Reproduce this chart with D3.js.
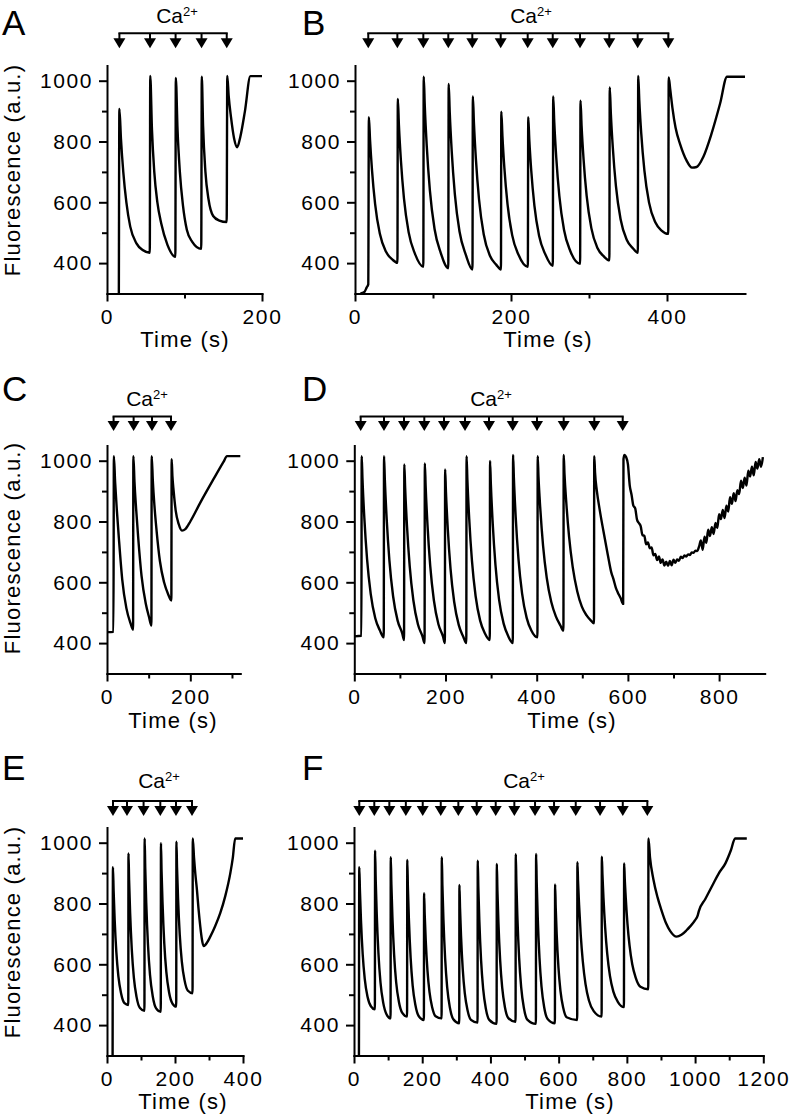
<!DOCTYPE html>
<html><head><meta charset="utf-8">
<script src="https://cdn.jsdelivr.net/npm/d3@7/dist/d3.min.js"></script>
<style>
body{margin:0;background:#fff}
svg{display:block}
text{font-family:"Liberation Sans",Arial,Helvetica,sans-serif;fill:#000}
.tick text{font-size:21px;letter-spacing:1.6px}
.title{font-size:22px;letter-spacing:1.2px}
.letter{font-size:35px}
.ca{font-size:21px}
</style>
</head><body>
<svg id="chart" width="796" height="1118"></svg>
<script>
// ---------- shared axis values ----------
const yDomain = [300, 1050];
const yTicksMajor = [400, 600, 800, 1000];
const yTicksMinor = [500, 700, 900];
const yTitleText = "Fluorescence (a.u.)";
const xTitleText = "Time (s)";

// ---------- Panel A ----------
const xDomainA = [0, 200];
const xMajorA = [0, 200];
const xMinorA = [100];
const arrowsA = [16, 55.5, 88.5, 122, 154.5];
const timeA = [15.3, 16, 18, 21, 25, 30, 38, 46, 55.2,
  55.8, 58, 61, 65, 70, 78, 88.2,
  88.8, 91, 94, 98, 103, 110, 121.6,
  122.3, 124, 127, 131, 137, 145, 154.4,
  155.2, 157, 160, 164, 168, 172, 178, 185, 200];
const fluoA = [300, 907, 810, 700, 600, 520, 465, 443, 434,
  1016, 840, 700, 600, 530, 460, 421,
  1009, 840, 700, 590, 510, 470, 447,
  1013, 850, 700, 610, 555, 540, 535,
  1016, 950, 880, 810, 781, 815, 900, 1015, 1015];

// ---------- Panel B ----------
const xDomainB = [0, 500];
const xMajorB = [0, 200, 400];
const xMinorB = [100, 300];
const arrowsB = [17, 54.3, 87.6, 119.6, 150.4, 186.8, 221.4, 253.5, 288.5, 326, 362.4, 401.7];
const timeB = [7, 12, 15, 17, 17.8,
  19.3, 21.8, 25.8, 31.8, 39.8, 47.8, 54.4,
  54.9, 56.3, 58.8, 62.8, 68.8, 76.8, 87.6,
  88.1, 89.5, 92, 96, 102, 110, 119.6,
  120.1, 121.5, 124, 128, 134, 142, 150.6,
  151.1, 152.5, 155, 159, 165, 173, 181, 187.1,
  187.6, 189, 191.5, 195.5, 201.5, 209.5, 221.6,
  222.1, 223.5, 226, 230, 236, 244, 253.6,
  254.1, 255.5, 258, 262, 268, 276, 288.6,
  289.1, 290.5, 293, 297, 303, 311, 319, 326.1,
  326.6, 328, 330.5, 334.5, 340.5, 348.5, 356.5, 362.6,
  363.1, 364.5, 367, 371, 377, 385, 393, 401.6,
  402.2, 404, 407, 411, 417, 425, 432, 438, 446.5, 457, 468, 477, 500];
const fluoB = [300, 305, 320, 330, 880,
  805, 706, 594, 497, 437, 412, 401,
  940, 854, 740, 612, 501, 431, 388,
  1013, 915, 785, 639, 512, 433, 383,
  989, 894, 768, 627, 504, 428, 379,
  948, 860, 742, 610, 495, 424, 395, 379,
  898, 819, 713, 595, 492, 428, 388,
  880, 804, 703, 589, 490, 429, 391,
  948, 862, 748, 620, 509, 440, 398,
  934, 852, 743, 621, 515, 449, 422, 409,
  978, 893, 781, 654, 544, 476, 448, 434,
  1016, 935, 826, 705, 599, 534, 507, 496,
  1011, 975, 910, 845, 790, 738, 714, 716, 749, 825, 924, 1013, 1013];

// ---------- Panel C ----------
const xDomainC = [0, 320];
const xMajorC = [0, 200];
const xMinorC = [100, 300];
const arrowsC = [15.8, 63.9, 108, 153.7];
const timeC = [0, 15.5, 16.5, 19.5, 23.5, 28.5, 36.5, 46.5, 56.5, 62.6,
  63.3, 66, 70, 75, 83, 93, 101, 106.6,
  107.3, 110, 114, 119, 127, 137, 147, 154.5,
  155.2, 157, 160, 165, 172, 180, 188, 200, 224, 256, 280, 288, 320];
const fluoC = [436, 437, 1015, 930, 840, 745, 610, 515, 465, 444,
  1015, 930, 840, 745, 620, 530, 485, 458,
  1015, 935, 850, 770, 670, 600, 560, 540,
  1005, 950, 900, 835, 792, 770, 775, 800, 862, 940, 997, 1015, 1015];

// ---------- Panel D ----------
const xDomainD = [0, 900];
const xMajorD = [0, 200, 400, 600, 800];
const xMinorD = [100, 300, 500, 700];
const arrowsD = [14, 65.1, 109, 153.5, 196.7, 242.8, 295.4, 347.4, 400.7, 459.2, 526.3, 588.6];
const timeD = [0, 15.6, 16.2, 18, 22, 28, 36, 46, 56, 64.6,
  65.2, 67, 71, 77, 85, 95, 105, 109.1,
  109.7, 111.5, 115.5, 121.5, 129.5, 139.5, 149.5, 154.1,
  154.7, 156.5, 160.5, 166.5, 174.5, 184.5, 194.5, 198.6,
  199.2, 201, 205, 211, 219, 229, 239, 245.6,
  246.2, 248, 252, 258, 266, 276, 286, 297.1,
  297.7, 299.5, 303.5, 309.5, 317.5, 327.5, 337.5, 347.6,
  348.2, 350, 354, 360, 368, 378, 388, 401.6,
  402.2, 404, 408, 414, 422, 432, 442, 452, 458.6,
  459.2, 461, 465, 471, 479, 489, 499, 509, 519, 525.6,
  526.2, 528, 532, 538, 546, 556, 564, 568, 574, 578, 584, 589.6,
  590.3, 592.5,
  596, 600, 604, 608, 612, 616, 620, 624, 628, 632, 636, 640, 644, 648, 652, 656, 660, 664, 668, 672,
  676, 680, 684, 688, 692, 696, 700, 704, 708, 712, 716, 720, 724, 728, 732, 736, 740, 744, 748, 752,
  756, 760, 764, 768, 772, 776, 780, 784, 788, 792, 796, 800, 804, 808, 812, 816, 820, 824, 828, 832,
  836, 840, 844, 848, 852, 856, 860, 864, 868, 872, 876, 880, 884, 888, 892, 896];
const fluoD = [422, 424, 1015, 938, 812, 676, 562, 482, 442, 419,
  1015, 937, 809, 671, 555, 474, 433, 410,
  988, 912, 787, 653, 541, 462, 422, 400,
  991, 915, 789, 654, 541, 462, 422, 400,
  971, 897, 776, 645, 536, 460, 421, 400,
  1015, 937, 809, 671, 555, 474, 433, 410,
  999, 922, 795, 658, 543, 464, 423, 400,
  1019, 942, 814, 677, 563, 483, 442, 419,
  1015, 945, 840, 720, 615, 535, 488, 458, 441,
  1019, 955, 860, 750, 650, 570, 520, 492, 474, 465,
  1015, 960, 900, 840, 771, 690, 630, 612, 580, 566, 548, 529,
  1005, 1019,
  1012, 989, 919, 888, 852, 843, 806, 795, 785, 755, 753, 725, 731, 712, 715, 689, 693, 673, 685, 664,
  675, 655, 668, 654, 670, 656, 674, 664, 675, 671, 684, 680, 688, 685, 692, 690, 698, 697, 704, 703,
  717, 738, 707, 750, 730, 773, 752, 781, 759, 795, 779, 824, 808, 838, 811, 852, 833, 880, 858, 893,
  867, 903, 890, 934, 910, 944, 918, 967, 948, 980, 952, 996, 974, 1005, 980, 1012];

// ---------- Panel E ----------
const xDomainE = [0, 400];
const xMajorE = [0, 200, 400];
const xMinorE = [100, 300];
const arrowsE = [17.6, 58.8, 107.6, 156.8, 202.9, 250];
const timeE = [16.5, 17.5, 19.5, 22.5, 27.5, 33.5, 41.5, 51.5, 62.6,
  63.2, 65, 68, 73, 79, 87, 97, 110.1,
  110.7, 112.5, 115.5, 120.5, 126.5, 134.5, 144.5, 158.1,
  158.7, 160.5, 163.5, 168.5, 174.5, 182.5, 192.5, 203.6,
  204.2, 206, 209, 214, 220, 228, 238, 251.6,
  252.3, 256, 260, 264.6, 269, 274.4, 279, 284, 290, 303.8, 318, 333, 348, 362.6, 370, 377, 400];
const fluoE = [300, 919, 841, 748, 640, 560, 504, 472, 466,
  965, 877, 770, 647, 556, 492, 456, 447,
  1014, 917, 800, 665, 565, 495, 455, 444,
  998, 906, 797, 668, 575, 508, 471, 461,
  1003, 918, 816, 697, 610, 548, 513, 505,
  1014, 950, 895, 844, 785, 724, 683, 660, 665, 691, 725, 768, 825, 899, 950, 1014, 1014];

// ---------- Panel F ----------
const xDomainF = [0, 1200];
const xMajorF = [0, 200, 400, 600, 800, 1000, 1200];
const xMinorF = [100, 300, 500, 700, 900, 1100];
const arrowsF = [15.5, 59.5, 103.6, 152, 201.5, 254.3, 305.9, 359.8, 415.5, 470.1, 530.8, 586.5, 650.1, 721.4, 788, 860];
const timeF = [14.5, 15.5, 17.5, 20.5, 25.5, 31.5, 39.5, 49.5, 61.2,
  61.8, 63.6, 66.6, 71.6, 77.6, 85.6, 95.6, 107.2,
  107.8, 109.6, 112.6, 117.6, 123.6, 131.6, 141.6, 155.6,
  156.2, 158, 161, 166, 172, 180, 190, 204.9,
  205.5, 207.3, 210.3, 215.3, 221.3, 229.3, 239.3, 256.8,
  257.4, 259.2, 262.2, 267.2, 273.2, 281.2, 291.2, 308.5,
  309.1, 310.9, 313.9, 318.9, 324.9, 332.9, 342.9, 362.2,
  362.8, 364.6, 367.6, 372.6, 378.6, 386.6, 396.6, 418.1,
  418.7, 420.5, 423.5, 428.5, 434.5, 442.5, 452.5, 473.7,
  474.3, 476.1, 479.1, 484.1, 490.1, 498.1, 508.1, 533.3,
  533.9, 535.7, 538.7, 543.7, 549.7, 557.7, 567.7, 589,
  589.6, 591.4, 594.4, 599.4, 605.4, 613.4, 623.4, 654.4,
  655, 656.8, 659.8, 664.8, 670.8, 678.8, 688.8, 702.8, 726,
  726.6, 728.4, 731.4, 736.4, 742.4, 750.4, 760.4, 774.4, 791.4,
  792, 793.8, 796.8, 801.8, 807.8, 815.8, 825.8, 839.8, 862.7,
  863.3, 868, 877.7, 890, 902.3, 915, 926.7, 946, 960, 975, 985, 1000, 1008, 1011, 1030, 1053.7, 1070, 1088.9, 1105, 1117.3, 1151.6];
const fluoF = [300, 919, 839, 744, 633, 552, 494, 462, 452,
  974, 880, 768, 637, 541, 474, 435, 422,
  952, 863, 756, 632, 541, 477, 440, 428,
  943, 854, 747, 622, 530, 466, 429, 417,
  834, 764, 679, 581, 509, 458, 429, 422,
  952, 859, 748, 619, 524, 457, 419, 406,
  861, 784, 691, 583, 504, 449, 417, 408,
  941, 850, 741, 613, 520, 454, 417, 404,
  930, 842, 736, 613, 523, 459, 423, 411,
  962, 867, 754, 622, 525, 456, 418, 404,
  963, 869, 755, 623, 527, 458, 420, 406,
  863, 787, 696, 590, 512, 457, 426, 417,
  936, 875, 798, 696, 610, 535, 481, 446, 428,
  954, 895, 819, 720, 635, 562, 510, 475, 459,
  932, 882, 818, 733, 662, 600, 556, 526, 518,
  1014, 950, 880, 820, 775, 735, 710, 691, 697, 712, 724, 745, 762, 775, 815, 866, 900, 932, 975, 1014, 1014];

// ---------- layout (positions only) ----------
const panels = [
  {letter:"A", t:timeA, f:fluoA, arrows:arrowsA, xDomain:xDomainA, xMajor:xMajorA, xMinor:xMinorA,
   xRange:[107,262], yRange:[293.5,65.5], letterPos:[2,35], caPos:[177,23], barY:33.3, tipY:48.3, xTitle:[185,347], yTitle:[20,170]},
  {letter:"B", t:timeB, f:fluoB, arrows:arrowsB, xDomain:xDomainB, xMajor:xMajorB, xMinor:xMinorB,
   xRange:[355,745], yRange:[293.5,65.5], letterPos:[302,35], caPos:[531,23], barY:33.3, tipY:48.3, xTitle:[548,347]},
  {letter:"C", t:timeC, f:fluoC, arrows:arrowsC, xDomain:xDomainC, xMajor:xMajorC, xMinor:xMinorC,
   xRange:[107,240.3], yRange:[673.5,445.5], letterPos:[2,401], caPos:[147,406], barY:416.5, tipY:431, xTitle:[173,727.5], yTitle:[20,548]},
  {letter:"D", t:timeD, f:fluoD, arrows:arrowsD, xDomain:xDomainD, xMajor:xMajorD, xMinor:xMinorD,
   xRange:[354.3,764.7], yRange:[673.5,445.5], letterPos:[302,401], caPos:[491,406], barY:416.5, tipY:431, xTitle:[572,727.5]},
  {letter:"E", t:timeE, f:fluoE, arrows:arrowsE, xDomain:xDomainE, xMajor:xMajorE, xMinor:xMinorE,
   xRange:[107,243], yRange:[1055.5,827.5], letterPos:[2,780], caPos:[159,788], barY:801, tipY:816, xTitle:[183,1109], yTitle:[20,932]},
  {letter:"F", t:timeF, f:fluoF, arrows:arrowsF, xDomain:xDomainF, xMajor:xMajorF, xMinor:xMinorF,
   xRange:[354,763.3], yRange:[1055.5,827.5], letterPos:[302,780], caPos:[524,788], barY:801, tipY:816, xTitle:[570,1109]}
];

const svg = d3.select("#chart");
const fmt = d3.format("d");

function styleAxis(sel) {
  sel.attr("font-size", null).attr("font-family", null);
  sel.selectAll(".domain").attr("stroke", "#000").attr("stroke-width", 2).attr("stroke-linecap", "square");
  sel.selectAll(".tick line").attr("stroke", "#000").attr("stroke-width", 2);
}

panels.forEach(p => {
  const g = svg.append("g");
  const x = d3.scaleLinear().domain(p.xDomain).range(p.xRange);
  const y = d3.scaleLinear().domain(yDomain).range(p.yRange);

  // x axis major + minor
  g.append("g").attr("transform", `translate(0,${p.yRange[0]})`)
    .call(d3.axisBottom(x).tickValues(p.xMajor).tickSize(8).tickSizeOuter(0).tickPadding(7.6).tickFormat(fmt))
    .call(styleAxis);
  g.append("g").attr("transform", `translate(0,${p.yRange[0]})`)
    .call(d3.axisBottom(x).tickValues(p.xMinor).tickSize(5).tickFormat(""))
    .call(s => s.select(".domain").remove())
    .call(styleAxis);

  // y axis major + minor
  g.append("g").attr("transform", `translate(${p.xRange[0]},0)`)
    .call(d3.axisLeft(y).tickValues(yTicksMajor).tickSize(8).tickSizeOuter(0).tickPadding(6).tickFormat(fmt))
    .call(styleAxis);
  g.append("g").attr("transform", `translate(${p.xRange[0]},0)`)
    .call(d3.axisLeft(y).tickValues(yTicksMinor).tickSize(5).tickFormat(""))
    .call(s => s.select(".domain").remove())
    .call(styleAxis);

  // trace
  const line = d3.line()
    .x((d, i) => x(p.t[i]))
    .y(d => y(d))
    .curve(d3.curveMonotoneX);
  g.append("path").datum(p.f)
    .attr("d", line)
    .attr("fill", "none")
    .attr("stroke", "#000")
    .attr("stroke-width", 2.4)
    .attr("stroke-linejoin", "round");

  // Ca2+ addition bracket
  const ax = p.arrows.map(a => x(a));
  g.append("line")
    .attr("x1", ax[0]).attr("x2", ax[ax.length - 1])
    .attr("y1", p.barY).attr("y2", p.barY)
    .attr("stroke", "#000").attr("stroke-width", 2).attr("stroke-linecap", "square");
  const triTop = p.tipY - 10;
  g.selectAll(".stem").data(ax).join("line")
    .attr("x1", d => d).attr("x2", d => d)
    .attr("y1", p.barY).attr("y2", triTop + 1)
    .attr("stroke", "#000").attr("stroke-width", 2);
  g.selectAll(".tri").data(ax).join("path")
    .attr("d", d => `M${d - 6},${triTop}L${d + 6},${triTop}L${d},${p.tipY}Z`)
    .attr("fill", "#000");

  const ca = g.append("text").attr("class", "ca")
    .attr("x", p.caPos[0]).attr("y", p.caPos[1]).attr("text-anchor", "middle");
  ca.append("tspan").text("Ca");
  ca.append("tspan").attr("dy", -7).attr("font-size", 13).text("2+");

  // panel letter
  g.append("text").attr("class", "letter")
    .attr("x", p.letterPos[0]).attr("y", p.letterPos[1]).text(p.letter);

  // axis titles
  g.append("text").attr("class", "title")
    .attr("x", p.xTitle[0]).attr("y", p.xTitle[1]).attr("text-anchor", "middle").text(xTitleText);
  if (p.yTitle) {
    g.append("text").attr("class", "title")
      .attr("transform", `translate(${p.yTitle[0]},${p.yTitle[1]}) rotate(-90)`)
      .attr("text-anchor", "middle").text(yTitleText);
  }
});
</script>
</body></html>
